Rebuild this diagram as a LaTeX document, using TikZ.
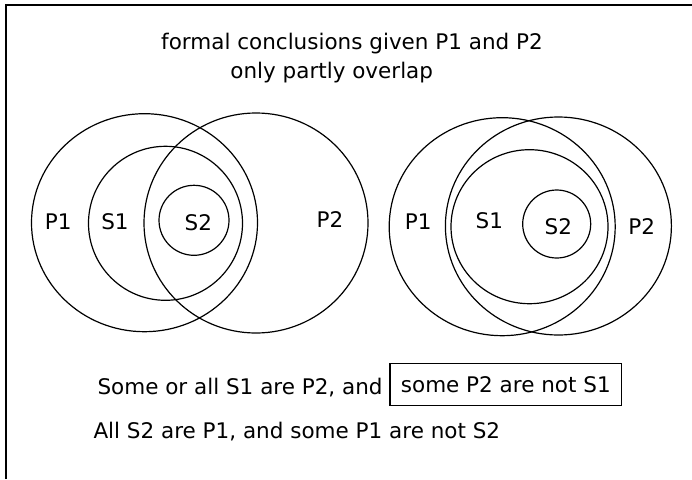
\documentclass[tikz,border=0pt]{standalone}
\usepackage{fontspec}
\setmainfont{DejaVu Sans}
\newcommand{\venntext}{\fontsize{21.5}{26}\selectfont}

\begin{document}
\begin{tikzpicture}[x=1pt,y=-1pt,
  ring/.style={line width=1.2pt},
  lbl/.style={font=\venntext, inner sep=0pt},
  txt/.style={font=\venntext, inner sep=0pt}]

\useasboundingbox (0,0) rectangle (692,479);
% frame, only top and left edges are visible
\draw[line width=2pt] (5.7,479) -- (5.7,5) -- (692,5);

%---------------- title -----------------
\node[txt, anchor=base] (title) at (352,49) {formal conclusions given P1 and P2};
\node[txt, anchor=base] (subtitle) at (331.7,78) {only partly overlap};

%---------------- left diagram: S1 not inside P2 -----------------
\begin{scope}
  \coordinate (P1L) at (144.5,222.7);
  \coordinate (S1L) at (165.5,223.3);
  \coordinate (S2L) at (194,220.3);
  \coordinate (P2L) at (256,223);
  % the big sets come out a little wider than tall
  \draw[ring] (P1L) ellipse[x radius=113pt, y radius=109pt];
  \draw[ring] (S1L) circle[radius=77pt];
  \draw[ring] (S2L) circle[radius=35pt];
  \draw[ring] (P2L) ellipse[x radius=112pt, y radius=110pt];
  \node[lbl] (p1l) at (58.3,221.7) {P1};
  \node[lbl] (s1l) at (115,222) {S1};
  \node[lbl] (s2l) at (198.3,223) {S2};
  \node[lbl] (p2l) at (330,220) {P2};
\end{scope}

%---------------- right diagram: S1 inside the lens -----------------
\begin{scope}
  \coordinate (P1R) at (502.2,226.7);
  \coordinate (S1R) at (529.5,226.7);
  \coordinate (S2R) at (556.7,224);
  \coordinate (P2R) at (558.4,226);
  \draw[ring] (P1R) ellipse[x radius=113pt, y radius=109pt];
  \draw[ring] (S1R) ellipse[x radius=78.5pt, y radius=77pt];
  \draw[ring] (S2R) circle[radius=34pt];
  \draw[ring] (P2R) ellipse[x radius=113pt, y radius=109pt];
  \node[lbl] (p1r) at (418.3,221.7) {P1};
  \node[lbl] (s1r) at (489.3,220.7) {S1};
  \node[lbl] (s2r) at (558.3,227) {S2};
  \node[lbl] (p2r) at (641.7,227) {P2};
\end{scope}

%---------------- conclusions -----------------
\node[txt, anchor=base west] (claim1) at (97.3,394) {Some or all S1 are P2, and};
\node[txt, draw, line width=1.2pt, minimum width=231.7pt, minimum height=42.4pt]
      (boxed) at (505.8,384.5) {some P2 are not S1};
\node[txt, anchor=base west] (claim2) at (93.3,438.3) {All S2 are P1, and some P1 are not S2};

\end{tikzpicture}
\end{document}
